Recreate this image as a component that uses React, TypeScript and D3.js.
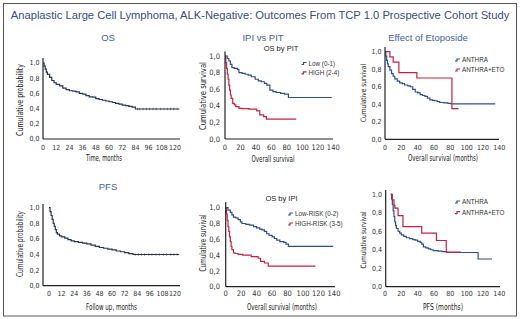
import React from "react";
import * as d3 from "d3";

const W = 520;
const H = 319;

const mainTitle = "Anaplastic Large Cell Lymphoma, ALK-Negative: Outcomes From TCP 1.0 Prospective Cohort Study";
const yTicks = [0, 0.2, 0.4, 0.6, 0.8, 1.0];
const monthTicks12 = [0, 12, 24, 36, 48, 60, 72, 84, 96, 108, 120];
const monthTicks20 = [0, 20, 40, 60, 80, 100, 120, 140];

// Panel 1: OS
const osTimes = [0, 1, 2, 3, 4, 6, 8, 10, 12, 15, 18, 21, 24, 27, 30, 33, 36, 39, 42, 45, 48, 51, 54, 57, 60, 63, 66, 69, 72, 75, 78, 81, 84, 124];
const osSurv = [1, 0.96, 0.92, 0.88, 0.85, 0.81, 0.77, 0.74, 0.72, 0.7, 0.67, 0.65, 0.635, 0.63, 0.62, 0.6, 0.59, 0.57, 0.555, 0.55, 0.53, 0.52, 0.51, 0.5, 0.49, 0.48, 0.47, 0.46, 0.445, 0.44, 0.43, 0.42, 0.395, 0.395];
const osCensor = [86, 88, 91, 94, 97, 100, 103, 107, 110, 113, 116, 119, 122];

// Panel 4: PFS
const pfsTimes = [0, 1, 2, 3, 4, 5, 6, 7, 8, 10, 12, 15, 18, 21, 24, 28, 32, 36, 40, 44, 48, 52, 56, 60, 64, 68, 72, 76, 80, 124];
const pfsSurv = [1, 0.95, 0.9, 0.85, 0.8, 0.76, 0.72, 0.68, 0.66, 0.64, 0.625, 0.61, 0.59, 0.575, 0.565, 0.555, 0.545, 0.535, 0.52, 0.505, 0.49, 0.48, 0.47, 0.46, 0.445, 0.435, 0.425, 0.41, 0.4, 0.4];
const pfsCensor = [82, 85, 88, 91, 95, 98, 102, 105, 109, 112, 116, 119, 122];

// Panel 2: OS by PIT
const pitLowT = [0, 3, 5, 7, 9, 12, 16, 18, 22, 26, 30, 34, 39, 43, 47, 51, 54, 58, 62, 66, 72, 77, 82, 138];
const pitLowS = [1, 0.97, 0.94, 0.9, 0.86, 0.85, 0.84, 0.8, 0.79, 0.78, 0.77, 0.75, 0.72, 0.7, 0.69, 0.67, 0.65, 0.59, 0.57, 0.56, 0.55, 0.54, 0.5, 0.5];
const pitHighT = [0, 1, 2, 3, 4, 5, 6, 7, 8, 10, 12, 14, 18, 22, 31, 41, 45, 50, 53.5, 92];
const pitHighS = [1, 0.92, 0.85, 0.78, 0.72, 0.65, 0.59, 0.53, 0.49, 0.43, 0.41, 0.39, 0.37, 0.365, 0.36, 0.34, 0.29, 0.27, 0.24, 0.24];

// Panel 5: OS by IPI
const ipiLowT = [0, 3, 6, 8, 10, 13, 16, 19, 21, 26, 31, 36, 40, 44, 47, 50, 53, 56, 60, 63, 66, 70, 75, 78, 81, 139];
const ipiLowS = [1, 0.97, 0.94, 0.91, 0.88, 0.87, 0.85, 0.82, 0.8, 0.79, 0.78, 0.76, 0.745, 0.73, 0.72, 0.7, 0.67, 0.65, 0.63, 0.61, 0.59, 0.57, 0.56, 0.54, 0.51, 0.51];
const ipiHighT = [0, 1, 2, 3, 4, 5, 6, 7, 8, 10, 12, 16, 22, 27, 33, 42, 45, 50, 55, 116];
const ipiHighS = [1, 0.92, 0.84, 0.76, 0.7, 0.63, 0.57, 0.51, 0.47, 0.43, 0.42, 0.41, 0.4, 0.4, 0.38, 0.36, 0.32, 0.3, 0.26, 0.26];

// Panel 3: Etoposide OS
const etoOsAT = [0, 1, 2, 3, 4, 6, 8, 10, 12, 15, 18, 21, 24, 28, 31, 34, 37, 40, 43, 46, 49, 52, 55, 58, 61, 64, 67, 72, 77, 81, 135];
const etoOsAS = [1, 0.95, 0.9, 0.86, 0.83, 0.79, 0.75, 0.72, 0.69, 0.665, 0.645, 0.635, 0.62, 0.61, 0.6, 0.57, 0.54, 0.53, 0.51, 0.5, 0.49, 0.47, 0.45, 0.445, 0.44, 0.43, 0.42, 0.415, 0.41, 0.405, 0.405];
const etoOsET = [0, 6, 10, 17, 39, 82, 90];
const etoOsES = [1, 0.94, 0.88, 0.76, 0.7, 0.35, 0.35];

// Panel 6: Etoposide PFS
const etoPfsAT = [7, 8, 9, 10, 11, 12, 13, 14, 16, 18, 20, 23, 26, 30, 34, 37, 40, 43, 45, 47, 50, 53, 56, 59, 65, 70, 75.5, 114, 131];
const etoPfsAS = [1, 0.95, 0.89, 0.82, 0.76, 0.7, 0.66, 0.63, 0.6, 0.58, 0.56, 0.545, 0.53, 0.52, 0.51, 0.505, 0.49, 0.48, 0.46, 0.43, 0.42, 0.41, 0.4, 0.39, 0.385, 0.38, 0.37, 0.3, 0.3];
const etoPfsET = [7, 9, 11, 12, 16, 22, 45, 63, 75, 93];
const etoPfsES = [1, 0.94, 0.88, 0.85, 0.77, 0.65, 0.58, 0.5, 0.375, 0.375];

const BLUE = "#2e4f8e";
const RED = "#c6223f";
const DARK = "#22365f";
const NARROW = "'Liberation Sans Narrow', 'DejaVu Sans Condensed', 'Arial Narrow', sans-serif";
const SANS = "'Liberation Sans', Arial, Helvetica, sans-serif";

type Curve = { t: number[]; s: number[]; color: string; censor?: number[] };
type Legend = { label: string; color: string };
type Panel = {
  xDomain: [number, number];
  xRange: [number, number];
  yRange: [number, number];
  axisX: number;
  axisTop: number;
  axisRight: number;
  xTicks: number[];
  tickFont: number;
  yTickRight: number;
  xTickBase: number;
  yLabel: string;
  yLabelX: number;
  yLabelY: number;
  yLabelLen: number;
  yLabelFont: number;
  xLabel: string;
  xLabelX: number;
  xLabelY: number;
  xLabelLen: number;
  xLabelFont: number;
  curves: Curve[];
  legend?: { x: number; y: number; dy: number; items: Legend[]; font: number };
  sub?: { text: string; x: number; y: number };
};

const panels: Panel[] = [
  {
    xDomain: [0, 120], xRange: [43, 175], yRange: [139, 63], axisX: 43, axisTop: 58, axisRight: 180,
    xTicks: monthTicks12, tickFont: 7, yTickRight: 39.5, xTickBase: 149.5,
    yLabel: "Cumulative probability", yLabelX: 23, yLabelY: 100, yLabelLen: 72, yLabelFont: 8,
    xLabel: "Time, months", xLabelX: 104, xLabelY: 161, xLabelLen: 36, xLabelFont: 8,
    curves: [{ t: osTimes, s: osSurv, color: DARK, censor: osCensor }],
  },
  {
    xDomain: [0, 140], xRange: [225, 333.3], yRange: [139, 56], axisX: 225, axisTop: 51.5, axisRight: 333,
    xTicks: monthTicks20, tickFont: 7.5, yTickRight: 220, xTickBase: 149.5,
    yLabel: "Cumulative survival", yLabelX: 206, yLabelY: 96, yLabelLen: 68, yLabelFont: 9,
    xLabel: "Overall survival", xLabelX: 273, xLabelY: 161.5, xLabelLen: 43, xLabelFont: 8.5,
    curves: [{ t: pitLowT, s: pitLowS, color: BLUE }, { t: pitHighT, s: pitHighS, color: RED }],
    legend: { x: 301.5, y: 63.5, dy: 9.4, font: 6.3, items: [{ label: "Low (0-1)", color: BLUE }, { label: "HIGH (2-4)", color: RED }] },
    sub: { text: "OS by PIT", x: 281, y: 51 },
  },
  {
    xDomain: [0, 140], xRange: [385, 499.3], yRange: [139.3, 51.7], axisX: 385, axisTop: 47, axisRight: 499,
    xTicks: monthTicks20, tickFont: 7, yTickRight: 381.5, xTickBase: 149.5,
    yLabel: "Cumulative survival", yLabelX: 365.5, yLabelY: 93, yLabelLen: 58, yLabelFont: 7.5,
    xLabel: "Overall survival (months)", xLabelX: 443, xLabelY: 161, xLabelLen: 70, xLabelFont: 8,
    curves: [{ t: etoOsAT, s: etoOsAS, color: BLUE }, { t: etoOsET, s: etoOsES, color: RED }],
    legend: { x: 455, y: 60, dy: 10, font: 6.3, items: [{ label: "ANTHRA", color: BLUE }, { label: "ANTHRA+ETO", color: RED }] },
  },
  {
    xDomain: [0, 120], xRange: [49, 175], yRange: [285.7, 207.7], axisX: 43, axisTop: 204, axisRight: 180,
    xTicks: monthTicks12, tickFont: 7, yTickRight: 39.5, xTickBase: 296,
    yLabel: "Cumulative probability", yLabelX: 23, yLabelY: 244, yLabelLen: 66, yLabelFont: 8,
    xLabel: "Follow up, months", xLabelX: 111.5, xLabelY: 309.5, xLabelLen: 51, xLabelFont: 8,
    curves: [{ t: pfsTimes, s: pfsSurv, color: DARK, censor: pfsCensor }],
  },
  {
    xDomain: [0, 140], xRange: [225.7, 334], yRange: [286.7, 207.7], axisX: 225.7, axisTop: 202, axisRight: 335,
    xTicks: monthTicks20, tickFont: 7.5, yTickRight: 220, xTickBase: 296,
    yLabel: "Cumulative survival", yLabelX: 206, yLabelY: 243, yLabelLen: 57, yLabelFont: 8,
    xLabel: "Overall survival (months)", xLabelX: 282, xLabelY: 309.5, xLabelLen: 70, xLabelFont: 8,
    curves: [{ t: ipiLowT, s: ipiLowS, color: BLUE }, { t: ipiHighT, s: ipiHighS, color: RED }],
    legend: { x: 288, y: 214, dy: 10, font: 6.3, items: [{ label: "Low-RISK (0-2)", color: BLUE }, { label: "HIGH-RISK (3-5)", color: RED }] },
    sub: { text: "OS by IPI", x: 281.5, y: 201 },
  },
  {
    xDomain: [0, 140], xRange: [385, 499.3], yRange: [286.7, 194.3], axisX: 385.7, axisTop: 190, axisRight: 500,
    xTicks: monthTicks20, tickFont: 7, yTickRight: 382, xTickBase: 296,
    yLabel: "Cumulative survival", yLabelX: 365.5, yLabelY: 240, yLabelLen: 57, yLabelFont: 7.5,
    xLabel: "PFS (months)", xLabelX: 443, xLabelY: 309.5, xLabelLen: 40, xLabelFont: 8,
    curves: [{ t: etoPfsAT, s: etoPfsAS, color: BLUE }, { t: etoPfsET, s: etoPfsES, color: RED }],
    legend: { x: 455, y: 202, dy: 10.7, font: 6.3, items: [{ label: "ANTHRA", color: BLUE }, { label: "ANTHRA+ETO", color: RED }] },
  },
];

const sectionTitles = [
  { text: "OS", x: 108, y: 41 },
  { text: "IPI vs PIT", x: 263, y: 41 },
  { text: "Effect of Etoposide", x: 428, y: 41 },
  { text: "PFS", x: 108, y: 189.5 },
];

function survAt(t: number[], s: number[], time: number) {
  const i = d3.bisectRight(t, time) - 1;
  return s[Math.max(0, i)];
}

function PanelView({ p }: { p: Panel }) {
  const x = d3.scaleLinear().domain(p.xDomain).range(p.xRange);
  const y = d3.scaleLinear().domain([0, 1]).range(p.yRange);
  const line = d3
    .line<[number, number]>()
    .x((d) => x(d[0]))
    .y((d) => y(d[1]))
    .curve(d3.curveStepAfter);
  const baseY = p.yRange[0];
  return (
    <g>
      {p.curves.map((c, i) => (
        <g key={i}>
          <path d={line(c.t.map((tt, j) => [tt, c.s[j]] as [number, number])) || ""} fill="none" stroke={c.color} strokeWidth={1.2} />
          {(c.censor || []).map((ct, j) => {
            const cy = y(survAt(c.t, c.s, ct));
            return <line key={j} x1={x(ct)} x2={x(ct)} y1={cy - 1.2} y2={cy + 1.2} stroke="#333" strokeWidth={0.6} />;
          })}
        </g>
      ))}
      <line x1={p.axisX} x2={p.axisX} y1={p.axisTop} y2={baseY} stroke="#222" strokeWidth={1.2} />
      <line x1={p.axisX} x2={p.axisRight} y1={baseY} y2={baseY} stroke="#222" strokeWidth={1.2} />
      {yTicks.map((v) => (
        <text key={v} x={p.yTickRight} y={y(v)} dy="0.35em" textAnchor="end" fontSize={p.tickFont} fontFamily={NARROW} fill="#333">
          {v.toFixed(1).replace(".", ",")}
        </text>
      ))}
      {p.xTicks.map((v) => (
        <text key={v} x={x(v)} y={p.xTickBase} textAnchor="middle" fontSize={p.tickFont} fontFamily={NARROW} fill="#333">
          {v}
        </text>
      ))}
      <text
        transform={`translate(${p.yLabelX},${p.yLabelY}) rotate(-90)`}
        textAnchor="middle"
        fontSize={p.yLabelFont}
        fontFamily={NARROW}
        fill="#222"
        textLength={p.yLabelLen}
        lengthAdjust="spacingAndGlyphs"
      >
        {p.yLabel}
      </text>
      <text
        x={p.xLabelX}
        y={p.xLabelY}
        textAnchor="middle"
        fontSize={p.xLabelFont}
        fontFamily={NARROW}
        fill="#222"
        textLength={p.xLabelLen}
        lengthAdjust="spacingAndGlyphs"
      >
        {p.xLabel}
      </text>
      {p.sub && (
        <text x={p.sub.x} y={p.sub.y} textAnchor="middle" fontSize={7.5} fontFamily={SANS} fill="#222">
          {p.sub.text}
        </text>
      )}
      {p.legend &&
        p.legend.items.map((it, i) => {
          const ly = p.legend!.y + i * p.legend!.dy;
          const lx = p.legend!.x;
          return (
            <g key={i}>
              <path d={`M${lx},${ly + 1} h2 v-2 h3`} fill="none" stroke={it.color} strokeWidth={1.2} />
              <text x={lx + 7} y={ly} dy="0.35em" fontSize={p.legend!.font} fontFamily={SANS} fill="#333">
                {it.label}
              </text>
            </g>
          );
        })}
    </g>
  );
}

export default function App() {
  return (
    <svg width={W} height={H} viewBox={`0 0 ${W} ${H}`} style={{ position: "absolute", left: 0, top: 0, background: "#fff" }}>
      <rect x={0} y={0} width={W} height={H} fill="#fff" />
      <rect x={3.5} y={3.5} width={513} height={312.5} fill="none" stroke="#555" strokeWidth={1} />
      <text x={260} y={19} textAnchor="middle" fontSize={11.2} fontFamily={SANS} fill="#364f7d">
        {mainTitle}
      </text>
      {sectionTitles.map((s) => (
        <text key={s.text} x={s.x} y={s.y} textAnchor="middle" fontSize={9.5} fontFamily={SANS} fill="#3f62a0">
          {s.text}
        </text>
      ))}
      {panels.map((p, i) => (
        <PanelView key={i} p={p} />
      ))}
    </svg>
  );
}
